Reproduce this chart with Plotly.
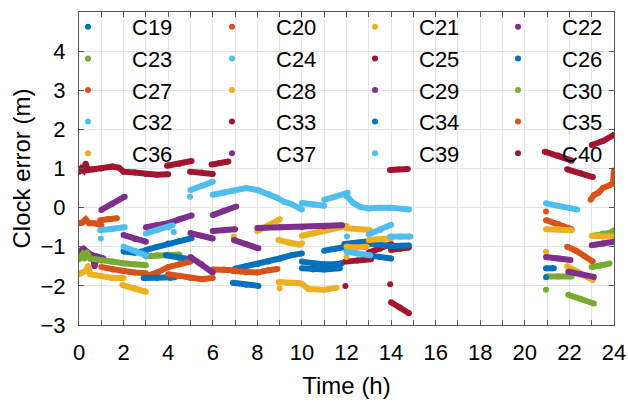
import plotly.graph_objects as go

# Satellite clock error (m) versus time of day (h); None separates arcs
t_C19 = [2.0, 2.5, 3.0, None, 3.0, 3.5, 4.0, 4.5, 5.05]
e_C19 = [-1.12, -1.15, -1.1, None, -1.08, -1.0, -0.92, -0.85, -0.78]

t_C20 = [0.0, 0.15, 0.3, 0.45, 0.7, 1.0, None, 0.95, 1.3, 1.7, None, 20.95, None, 20.95, 21.5, 22.1]
e_C20 = [-0.4, -0.38, -0.3, -0.4, -0.4, -0.45, None, -0.32, -0.29, -0.27, None, -0.1, None, -0.32, -0.42, -0.55]

t_C21 = [0.0, 0.3, 0.4, 0.5, 1.0, 1.5, 2.0, None, 1.95, 2.5, 3.0, None, 20.95, 21.5, 22.1, None, 20.95]
e_C21 = [-1.7, -1.62, -1.5, -1.7, -1.75, -1.8, -1.8, None, -1.98, -2.06, -2.15, None, -0.55, -0.55, -0.58, None, -1.13]

t_C22 = [0.0, 0.2, 0.4, 0.6, 0.7, 0.8, 1.1, None, 1.0, 1.5, 2.05, None, 2.0, 2.5, 3.0, None,
         3.0, 3.5, 4.0, 4.5, 5.05]
e_C22 = [-1.12, -1.05, -1.15, -1.22, -1.5, -1.25, -1.3, None, -0.06, 0.1, 0.28, None, -0.7, -0.8, -0.87, None,
         -0.5, -0.45, -0.4, -0.3, -0.2]

t_C23 = [0.0, 0.15, 0.25, 0.35, 0.5, 1.0, 1.5, 2.0, 2.5, 3.0, None, 3.0, 3.5, 4.0, 4.5]
e_C23 = [-1.32, -1.2, -1.3, -1.15, -1.3, -1.35, -1.38, -1.42, -1.45, -1.47, None, -1.24, -1.22, -1.2, -1.2]

t_C24 = [0.95, 1.5, 2.05, None, 0.98, None, 2.0, 2.5, 3.0, None, 3.0, 3.5, 4.0, 4.2, None, 4.25]
e_C24 = [-0.58, -0.55, -0.5, None, -0.79, None, -1.0, -1.1, -1.22, None, -0.66, -0.58, -0.5, -0.45, None, -0.62]

t_C25 = [0.0, 0.1, 0.2, 0.3, 0.4, 0.6, 1.0, 1.5, 1.8, 2.0, 2.5, 3.0, 3.5, 4.0, None,
         3.95, 4.5, 5.05, None, 4.98, 5.5, 6.0, None, 5.95, 6.3, 6.7]
e_C25 = [0.92, 1.0, 0.95, 1.12, 0.96, 0.98, 1.0, 1.05, 1.02, 0.92, 0.9, 0.86, 0.84, 0.85, None,
         1.07, 1.12, 1.19, None, 0.92, 0.9, 0.86, None, 1.1, 1.14, 1.18]

t_C26 = [3.9, 4.5, 5.0, None, 7.0, 7.5, 8.0, 8.5, 9.0, 9.5, 10.0, None, 10.0, 10.5, 11.0, 11.5, 11.8]
e_C26 = [-1.22, -1.28, -1.32, None, -1.56, -1.5, -1.45, -1.38, -1.3, -1.22, -1.17, None, -1.38, -1.42, -1.45, -1.45, -1.42]

t_C27 = [1.0, 1.5, 2.0, 2.5, 3.0, None, 3.0, 3.5, 4.0, 4.5, 5.0, None, 6.0, 6.5, 7.0, None,
         6.9, 7.5, 8.0, 8.5, 8.9, None, 21.9, 22.3, 22.7, 23.05]
e_C27 = [-1.52, -1.58, -1.62, -1.66, -1.68, None, -1.75, -1.66, -1.52, -1.45, -1.38, None, -1.58, -1.58, -1.6, None,
         -1.62, -1.66, -1.66, -1.6, -1.57, None, -1.0, -1.1, -1.25, -1.38]

t_C28 = [6.95, None, 8.0, 8.5, 9.0, None, 8.95, 9.4, 9.9, None, 10.0, 10.5, 11.0, 11.5, 12.0, None,
         12.0, 12.5, 13.05, None, 21.9, 22.3, 22.7, 23.05]
e_C28 = [-0.74, None, -0.6, -0.45, -0.3, None, -0.83, -0.9, -0.95, None, -0.72, -0.66, -0.6, -0.52, -0.47, None,
         -0.53, -0.55, -0.57, None, -1.5, -1.62, -1.75, -1.85]

t_C29 = [5.0, 5.5, 6.0, None, 5.0, 5.5, 6.0, None, 6.0, 6.5, 7.05, None, 6.0, 6.5, 7.0, None, 6.95, 7.5, 8.05]
e_C29 = [-0.65, -0.72, -0.79, None, -1.26, -1.45, -1.66, None, -0.19, -0.08, 0.03, None, -0.6, -0.58, -0.55, None, -0.83, -0.93, -1.04]

t_C30 = [20.95, None, 21.0, 21.5, 22.1, None, 21.95, 22.5, 23.1, None, 23.0, 23.4, 23.8, None, 23.1, 23.5, 23.8, 24.0]
e_C30 = [-2.1, None, -1.76, -1.76, -1.76, None, -2.23, -2.33, -2.45, None, -1.52, -1.48, -1.43, None, -0.72, -0.66, -0.65, -0.58]

t_C32 = [4.98, None, 5.0, 5.5, 6.0, None, 6.0, 6.5, 7.0, 7.5, 8.0, 8.5, 8.9, 9.2, 9.5, 10.0, None,
         10.0, 10.5, 11.0, None, 11.0, 11.5, 12.05, None, 12.0, 12.3, 12.6, 13.0, 13.5, 14.0, 14.8]
e_C32 = [0.28, None, 0.45, 0.55, 0.66, None, 0.33, 0.38, 0.44, 0.5, 0.45, 0.35, 0.25, 0.15, 0.1, -0.05, None,
         0.12, 0.08, 0.05, None, 0.2, 0.28, 0.38, None, 0.3, 0.12, 0.02, -0.02, 0.0, 0.0, -0.05]

t_C33 = [11.95, None, 11.95, 12.5, 13.1, None, 13.0, 13.5, 14.0, None, 14.0, 14.4, 14.8, None,
         13.96, None, 14.0, 14.4, 14.8]
e_C33 = [-2.0, None, -1.38, -1.35, -1.32, None, -1.15, -1.05, -0.93, None, -1.08, -1.05, -1.02, None,
         -1.96, None, -2.42, -2.55, -2.7]

t_C34 = [2.9, 3.5, 4.1, 4.3, None, 6.9, 7.5, 8.05, None, 10.0, 10.5, 11.0, 11.7, None, 11.0, 11.5, 12.0, None,
         11.9, 12.5, 13.0, None, 13.0, 14.0, 14.8, None, 13.0, 13.5, 14.0, None, 20.95, 21.3, None, 20.95]
e_C34 = [-1.8, -1.8, -1.8, -1.78, None, -1.92, -1.97, -2.0, None, -1.55, -1.58, -1.58, -1.55, None, -1.1, -1.05, -1.0, None,
         -0.93, -0.9, -0.86, None, -0.92, -0.98, -0.97, None, -1.22, -1.26, -1.3, None, -1.55, -1.55, None, -1.78]

t_C35 = [4.0, 4.5, 5.0, 5.5, 6.0, None, 22.95, 23.1, 23.3, 23.5, 23.8, 23.95, 24.0]
e_C35 = [-1.7, -1.75, -1.8, -1.83, -1.8, None, 0.2, 0.32, 0.38, 0.5, 0.57, 0.62, 0.95]

t_C36 = [8.95, 9.4, 9.9, None, 9.0, None, 10.0, 10.3, 11.0, 11.55, None, 12.0, 12.4, 12.9, None,
         13.0, 13.5, 14.0, None, 10.0, None, 12.0, None, 23.0, 23.5, 24.0]
e_C36 = [-1.9, -1.92, -1.93, None, -2.06, None, -1.95, -2.08, -2.1, -2.05, None, -1.0, -1.02, -1.0, None,
         -0.83, -0.8, -0.78, None, -0.91, None, -1.26, None, -0.72, -0.74, -0.74]

t_C37 = [8.0, 9.0, 10.0, 11.0, 11.8, None, 20.95, 21.5, 22.05, None, 21.95, 22.5, 23.1, None, 23.0, 23.5, 24.0]
e_C37 = [-0.52, -0.5, -0.5, -0.48, -0.45, None, -1.26, -1.3, -1.34, None, -1.64, -1.7, -1.77, None, -0.96, -0.92, -0.87]

t_C39 = [12.02, None, 13.0, 13.5, 14.0, None, 13.96, 14.4, 14.86, None, 12.0, 12.5, 13.06, None,
         20.95, 21.5, 22.0, 22.35]
e_C39 = [-0.74, None, -0.68, -0.57, -0.44, None, -0.74, -0.74, -0.74, None, -1.13, -1.17, -1.22, None,
         0.11, 0.05, 0.0, -0.05]

t_C40 = [13.95, 14.35, 14.75, None, 20.9, 21.5, 22.1, None, 21.9, 22.5, 23.05, None, 23.0, 23.5, 24.0]
e_C40 = [0.96, 0.98, 0.99, None, 1.43, 1.33, 1.2, None, 0.98, 0.88, 0.78, None, 1.6, 1.7, 1.86]

satellites = ["C19", "C20", "C21", "C22", "C23", "C24", "C25", "C26", "C27", "C28",
              "C29", "C30", "C32", "C33", "C34", "C35", "C36", "C37", "C39", "C40"]
times = [t_C19, t_C20, t_C21, t_C22, t_C23, t_C24, t_C25, t_C26, t_C27, t_C28,
         t_C29, t_C30, t_C32, t_C33, t_C34, t_C35, t_C36, t_C37, t_C39, t_C40]
errors = [e_C19, e_C20, e_C21, e_C22, e_C23, e_C24, e_C25, e_C26, e_C27, e_C28,
          e_C29, e_C30, e_C32, e_C33, e_C34, e_C35, e_C36, e_C37, e_C39, e_C40]

x_ticks = list(range(0, 25))
x_ticktext = [str(v) if v % 2 == 0 else "" for v in x_ticks]
y_ticks = [-3, -2, -1, 0, 1, 2, 3, 4]

palette = ["#0072BD", "#D95319", "#EDB120", "#7E2F8E", "#77AC30", "#4DBEEE", "#A2142F"]
sat_colors = {
    "C19": 0, "C20": 1, "C21": 2, "C22": 3, "C23": 4, "C24": 5, "C25": 6,
    "C26": 0, "C27": 1, "C28": 2, "C29": 3, "C30": 4, "C32": 5, "C33": 6,
    "C34": 0, "C35": 1, "C36": 2, "C37": 3, "C39": 5, "C40": 6,
}

FONT = "Liberation Sans, Arial, Helvetica, sans-serif"

fig = go.Figure()

# data arcs
for name, tx, ey in zip(satellites, times, errors):
    col = palette[sat_colors[name]]
    fig.add_trace(go.Scatter(
        x=tx, y=ey, mode="lines+markers", name=name, legendgroup=name,
        line=dict(color=col, width=6), marker=dict(color=col, size=6),
        connectgaps=False, showlegend=False, hoverinfo="x+y+name",
    ))

# legend entries: four columns filled row by row
legend_ids = ["legend", "legend2", "legend3", "legend4"]
for i, name in enumerate(satellites):
    col = palette[sat_colors[name]]
    fig.add_trace(go.Scatter(
        x=[None], y=[None], mode="markers", name=name, legendgroup=name,
        marker=dict(color=col, size=6), showlegend=True,
        legend=legend_ids[i % 4],
    ))

L, R, T, B = 79, 14, 12, 79
W, H = 628, 404
pw = W - L - R
ph = H - T - B
col_marker_px = [88, 232, 375, 518]
leg_top_px = 6
item_w = 78
sym_offset = item_w / 2 + 5
legend_common = dict(
    bgcolor="rgba(0,0,0,0)", borderwidth=0, font=dict(family=FONT, size=22, color="#000"),
    itemwidth=item_w, tracegroupgap=0, xanchor="left", yanchor="top",
    y=1 + (T - leg_top_px) / ph, orientation="v", itemclick=False, itemdoubleclick=False,
)
legend_layouts = {}
for k, lid in enumerate(legend_ids):
    d = dict(legend_common)
    d["x"] = (col_marker_px[k] - sym_offset - L) / pw
    legend_layouts[lid] = d

axis_common = dict(
    showline=True, linecolor="#555555", linewidth=1, mirror="ticks",
    ticks="inside", ticklen=5, tickcolor="#555555", tickwidth=1,
    showgrid=True, gridcolor="#e4e4e4", gridwidth=1, zeroline=False,
    tickfont=dict(family=FONT, size=22, color="#000"),
)

fig.update_layout(
    width=W, height=H, margin=dict(l=L, r=R, t=T, b=B, autoexpand=False),
    paper_bgcolor="white", plot_bgcolor="white",
    font=dict(family=FONT, color="#000"),
    xaxis=dict(axis_common, range=[0, 24], tickmode="array", tickvals=x_ticks, ticktext=x_ticktext,
               title=dict(text="Time (h)", font=dict(family=FONT, size=24), standoff=12),
               ticklabelstandoff=8),
    yaxis=dict(axis_common, range=[-3, 5], tickmode="array", tickvals=y_ticks,
               title=dict(text="Clock error (m)", font=dict(family=FONT, size=24), standoff=3),
               ticklabelstandoff=8),
    **legend_layouts,
)

fig.write_html("out.html")
